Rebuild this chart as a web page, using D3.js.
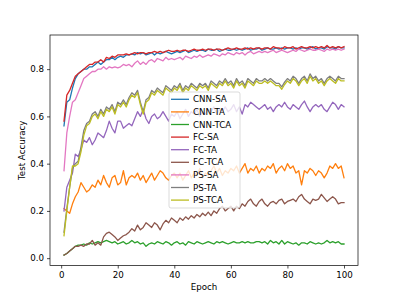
<!DOCTYPE html>
<html>
<head>
<meta charset="utf-8">
<script src="https://cdn.jsdelivr.net/npm/d3@7"></script>
<style>
  body { margin: 0; background: #fff; }
  text { font-family: "DejaVu Sans", sans-serif; }
</style>
</head>
<body>
<script>
// test accuracy per epoch
var epochs = d3.range(1, 101);

var cnnSA = [0.56,0.66,0.67,0.72,0.76,0.78,0.79,0.80,0.80,0.81,
  0.81,0.82,0.83,0.82,0.83,0.84,0.84,0.85,0.84,0.85,
  0.855,0.85,0.86,0.86,0.865,0.86,0.87,0.865,0.87,0.86,
  0.865,0.87,0.86,0.87,0.865,0.87,0.875,0.87,0.865,0.87,
  0.875,0.87,0.875,0.88,0.87,0.875,0.88,0.875,0.88,0.88,
  0.875,0.885,0.88,0.88,0.885,0.875,0.88,0.885,0.88,0.88,
  0.885,0.88,0.885,0.88,0.885,0.89,0.88,0.885,0.885,0.89,
  0.88,0.885,0.89,0.885,0.885,0.89,0.885,0.89,0.885,0.89,
  0.89,0.885,0.89,0.885,0.89,0.89,0.885,0.89,0.895,0.885,
  0.89,0.89,0.885,0.895,0.89,0.89,0.885,0.895,0.89,0.89];

var cnnTA = [0.21,0.20,0.19,0.23,0.26,0.28,0.32,0.30,0.28,0.29,
  0.31,0.30,0.33,0.31,0.35,0.32,0.30,0.34,0.35,0.31,
  0.32,0.37,0.31,0.34,0.35,0.34,0.36,0.33,0.35,0.32,
  0.34,0.36,0.33,0.35,0.37,0.36,0.34,0.33,0.35,0.36,
  0.34,0.36,0.33,0.35,0.37,0.34,0.36,0.35,0.38,0.34,
  0.36,0.35,0.37,0.39,0.36,0.38,0.35,0.37,0.36,0.38,
  0.37,0.39,0.36,0.38,0.40,0.36,0.38,0.37,0.39,0.36,
  0.38,0.37,0.39,0.38,0.40,0.36,0.38,0.39,0.37,0.40,
  0.38,0.39,0.36,0.37,0.31,0.37,0.36,0.38,0.37,0.35,
  0.37,0.36,0.34,0.36,0.39,0.38,0.40,0.38,0.39,0.34];

var cnnTCA = [0.013,0.02,0.03,0.04,0.05,0.055,0.055,0.06,0.055,0.065,
  0.06,0.065,0.07,0.065,0.07,0.075,0.07,0.065,0.07,0.06,
  0.065,0.07,0.06,0.065,0.075,0.065,0.07,0.06,0.065,0.05,
  0.06,0.065,0.06,0.07,0.065,0.06,0.07,0.065,0.055,0.065,
  0.07,0.06,0.065,0.055,0.07,0.065,0.06,0.07,0.065,0.06,
  0.065,0.07,0.065,0.06,0.07,0.065,0.07,0.065,0.06,0.065,
  0.07,0.065,0.065,0.07,0.065,0.07,0.065,0.065,0.07,0.07,
  0.065,0.07,0.06,0.075,0.065,0.07,0.06,0.075,0.06,0.07,
  0.065,0.06,0.065,0.055,0.065,0.065,0.06,0.07,0.065,0.06,
  0.065,0.06,0.065,0.075,0.065,0.07,0.065,0.07,0.06,0.06];

var fcSA = [0.58,0.69,0.71,0.74,0.77,0.78,0.79,0.80,0.81,0.82,
  0.82,0.83,0.83,0.84,0.83,0.85,0.845,0.855,0.85,0.86,
  0.86,0.86,0.865,0.86,0.865,0.87,0.865,0.87,0.87,0.865,
  0.87,0.87,0.875,0.87,0.875,0.87,0.875,0.88,0.875,0.875,
  0.88,0.875,0.88,0.88,0.875,0.88,0.885,0.88,0.88,0.885,
  0.88,0.885,0.885,0.88,0.885,0.885,0.88,0.885,0.89,0.885,
  0.885,0.89,0.885,0.885,0.89,0.885,0.89,0.885,0.89,0.89,
  0.885,0.89,0.89,0.885,0.895,0.89,0.89,0.885,0.895,0.89,
  0.89,0.895,0.885,0.89,0.895,0.89,0.89,0.895,0.89,0.895,
  0.89,0.895,0.89,0.9,0.89,0.895,0.89,0.895,0.89,0.895];

var fcTA = [0.20,0.30,0.33,0.36,0.44,0.43,0.46,0.50,0.49,0.51,
  0.48,0.50,0.53,0.52,0.51,0.54,0.58,0.55,0.53,0.58,
  0.58,0.55,0.56,0.57,0.56,0.59,0.62,0.60,0.63,0.59,
  0.57,0.60,0.61,0.59,0.60,0.62,0.60,0.58,0.61,0.60,
  0.62,0.59,0.61,0.63,0.60,0.62,0.61,0.63,0.60,0.62,
  0.61,0.63,0.62,0.64,0.61,0.63,0.62,0.64,0.62,0.63,
  0.65,0.62,0.64,0.61,0.65,0.64,0.66,0.65,0.64,0.63,
  0.64,0.65,0.63,0.64,0.62,0.64,0.65,0.64,0.66,0.64,
  0.63,0.65,0.64,0.63,0.65,0.665,0.64,0.62,0.64,0.65,
  0.64,0.65,0.63,0.62,0.64,0.66,0.65,0.63,0.65,0.64];

var fcTCA = [0.013,0.02,0.03,0.04,0.05,0.05,0.055,0.05,0.06,0.06,
  0.075,0.055,0.065,0.055,0.09,0.105,0.11,0.10,0.09,0.075,
  0.085,0.095,0.10,0.11,0.125,0.115,0.14,0.12,0.13,0.15,
  0.14,0.13,0.15,0.14,0.12,0.145,0.16,0.15,0.17,0.16,
  0.15,0.17,0.16,0.175,0.165,0.18,0.17,0.185,0.175,0.19,
  0.18,0.195,0.18,0.20,0.19,0.21,0.22,0.20,0.21,0.22,
  0.20,0.22,0.21,0.23,0.22,0.24,0.25,0.23,0.22,0.24,
  0.25,0.23,0.22,0.235,0.24,0.23,0.245,0.25,0.23,0.24,
  0.245,0.25,0.24,0.26,0.27,0.25,0.24,0.23,0.25,0.245,
  0.25,0.27,0.255,0.24,0.25,0.26,0.25,0.23,0.235,0.235];

var psSA = [0.37,0.53,0.60,0.66,0.67,0.70,0.73,0.76,0.77,0.78,
  0.79,0.79,0.80,0.80,0.81,0.80,0.81,0.805,0.81,0.805,
  0.81,0.82,0.815,0.82,0.81,0.825,0.835,0.82,0.83,0.82,
  0.835,0.84,0.83,0.845,0.84,0.835,0.85,0.84,0.845,0.84,
  0.845,0.85,0.84,0.855,0.85,0.845,0.855,0.85,0.86,0.85,
  0.855,0.86,0.855,0.865,0.86,0.855,0.865,0.86,0.87,0.865,
  0.86,0.87,0.865,0.87,0.86,0.87,0.875,0.865,0.87,0.875,
  0.87,0.875,0.87,0.875,0.88,0.87,0.875,0.88,0.875,0.87,
  0.875,0.88,0.875,0.885,0.88,0.875,0.88,0.885,0.88,0.88,
  0.885,0.88,0.875,0.885,0.88,0.885,0.88,0.885,0.88,0.885];

var psTA = [0.11,0.21,0.30,0.38,0.40,0.41,0.47,0.54,0.57,0.58,
  0.61,0.62,0.60,0.63,0.61,0.64,0.63,0.65,0.62,0.66,
  0.65,0.67,0.65,0.68,0.70,0.69,0.71,0.66,0.62,0.67,
  0.68,0.71,0.70,0.72,0.71,0.70,0.73,0.72,0.71,0.73,
  0.72,0.74,0.71,0.73,0.72,0.74,0.73,0.72,0.74,0.73,
  0.74,0.72,0.75,0.74,0.73,0.75,0.74,0.76,0.74,0.75,
  0.73,0.76,0.74,0.75,0.73,0.76,0.75,0.74,0.76,0.75,
  0.75,0.76,0.75,0.76,0.75,0.74,0.74,0.725,0.745,0.76,
  0.75,0.77,0.76,0.74,0.76,0.77,0.75,0.78,0.76,0.77,
  0.75,0.76,0.74,0.76,0.77,0.76,0.75,0.77,0.76,0.76];

var psTCA = [0.095,0.20,0.30,0.39,0.39,0.40,0.45,0.52,0.56,0.57,
  0.60,0.61,0.59,0.62,0.60,0.63,0.62,0.64,0.61,0.65,
  0.64,0.66,0.64,0.67,0.69,0.68,0.70,0.65,0.61,0.66,
  0.67,0.70,0.69,0.71,0.70,0.69,0.72,0.71,0.70,0.72,
  0.71,0.73,0.70,0.72,0.71,0.73,0.72,0.71,0.73,0.72,
  0.73,0.71,0.74,0.73,0.72,0.74,0.73,0.75,0.73,0.74,
  0.72,0.75,0.73,0.74,0.72,0.75,0.74,0.73,0.75,0.74,
  0.74,0.75,0.74,0.75,0.74,0.73,0.73,0.715,0.735,0.75,
  0.74,0.76,0.75,0.73,0.75,0.76,0.74,0.77,0.75,0.76,
  0.74,0.75,0.73,0.75,0.76,0.75,0.74,0.76,0.75,0.75];

var seriesNames = ["CNN-SA", "CNN-TA", "CNN-TCA", "FC-SA", "FC-TA", "FC-TCA", "PS-SA", "PS-TA", "PS-TCA"];
var seriesValues = [cnnSA, cnnTA, cnnTCA, fcSA, fcTA, fcTCA, psSA, psTA, psTCA];
var colors = ["#1f77b4", "#ff7f0e", "#2ca02c", "#d62728", "#9467bd", "#8c564b", "#e377c2", "#7f7f7f", "#bcbd22"];
var xTicks = [0, 20, 40, 60, 80, 100];
var yTicks = [0.0, 0.2, 0.4, 0.6, 0.8];

var width = 399, height = 299;
var margin = {top: 35, right: 41, bottom: 33.5, left: 50};
var chartWidth = width - margin.left - margin.right;
var chartHeight = height - margin.top - margin.bottom;

var svg = d3.select("body").append("svg")
    .attr("width", width)
    .attr("height", height);

var chartGroup = svg.append("g")
    .attr("transform", `translate(${margin.left}, ${margin.top})`);

var xScale = d3.scaleLinear().domain([-3.95, 104.95]).range([0, chartWidth]);
var yScale = d3.scaleLinear().domain([-0.031, 0.9445]).range([chartHeight, 0]);

// axes
var bottomAxis = d3.axisBottom(xScale).tickValues(xTicks).tickSize(3).tickPadding(3).tickFormat(d3.format("d"));
var leftAxis = d3.axisLeft(yScale).tickValues(yTicks).tickSize(3).tickPadding(3).tickFormat(d3.format(".1f"));

chartGroup.append("g")
    .attr("class", "axis")
    .attr("transform", `translate(0, ${chartHeight})`)
    .call(bottomAxis);

chartGroup.append("g")
    .attr("class", "axis")
    .call(leftAxis);

chartGroup.selectAll(".axis .domain").remove();
chartGroup.selectAll(".axis text")
    .style("font-size", "8.7px")
    .attr("fill", "#000");
chartGroup.selectAll(".axis line")
    .attr("stroke", "#000")
    .attr("stroke-width", 0.7);

// lines
var line = d3.line()
    .x((d, i) => xScale(epochs[i]))
    .y(d => yScale(d));

chartGroup.selectAll(".series")
    .data(seriesValues)
    .enter().append("path")
    .attr("class", "series")
    .attr("d", d => line(d))
    .attr("fill", "none")
    .attr("stroke", (d, i) => colors[i])
    .attr("stroke-width", 1.3)
    .attr("stroke-linejoin", "round")
    .attr("stroke-linecap", "square");

// frame
chartGroup.append("rect")
    .attr("width", chartWidth)
    .attr("height", chartHeight)
    .attr("fill", "none")
    .attr("stroke", "#000")
    .attr("stroke-width", 0.7);

// legend
var legend = svg.append("g").attr("transform", "translate(169, 92)");
legend.append("rect")
    .attr("width", 71)
    .attr("height", 116)
    .attr("rx", 2)
    .attr("fill", "#fff")
    .attr("fill-opacity", 0.8)
    .attr("stroke", "#ccc")
    .attr("stroke-width", 0.7);

var items = legend.selectAll(".item")
    .data(seriesNames)
    .enter().append("g")
    .attr("transform", (d, i) => `translate(0, ${7.3 + i * 12.6})`);

items.append("line")
    .attr("x1", 2).attr("x2", 20)
    .attr("stroke", (d, i) => colors[i])
    .attr("stroke-width", 1.3);

items.append("text")
    .attr("x", 24)
    .attr("dy", "0.35em")
    .style("font-size", "8.7px")
    .text(d => d);

// axis labels
svg.append("text")
    .attr("x", margin.left + chartWidth / 2)
    .attr("y", 290)
    .attr("text-anchor", "middle")
    .style("font-size", "8.7px")
    .text("Epoch");

svg.append("text")
    .attr("transform", `translate(25, ${margin.top + chartHeight / 2}) rotate(-90)`)
    .attr("text-anchor", "middle")
    .style("font-size", "8.7px")
    .text("Test Accuracy");
</script>
</body>
</html>
